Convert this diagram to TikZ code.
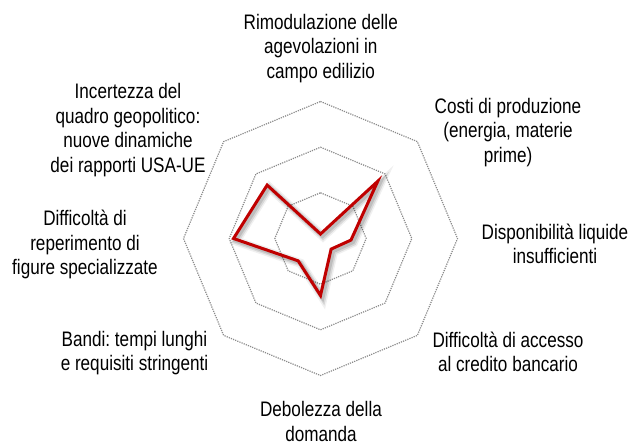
\documentclass[tikz,border=0pt]{standalone}
\usepackage{fontspec}
\setmainfont[FakeStretch=0.815]{Liberation Sans}
\usetikzlibrary{calc}
\frenchspacing
\definecolor{gridgray}{HTML}{8A8A8A}
\definecolor{seriesred}{HTML}{C00000}
\tikzset{
  gridline/.style={draw=gridgray, line width=1.2pt, dash pattern=on 1.2pt off 1.1pt},
  axislabel/.style={align=center, inner sep=0pt, anchor=base, font=\fontsize{21}{24.5}\selectfont\frenchspacing, text=black},
  series/.style={draw=seriesred, line width=3pt, line join=miter, miter limit=10,
    preaction={draw=black, opacity=.06, line width=9pt, transform canvas={shift={(2.5pt,-2.5pt)}}},
    preaction={draw=black, opacity=.10, line width=6pt, transform canvas={shift={(2.5pt,-2.5pt)}}},
    preaction={draw=black, opacity=.12, line width=4pt, transform canvas={shift={(2pt,-2pt)}}}}
}
\begin{document}
\begin{tikzpicture}[x=1pt,y=1pt]
\useasboundingbox (0,0) rectangle (643,445);
\coordinate (C) at (320.5,206.5);
% grid octagons
\foreach \r in {45.7,91.3,137}{
  \draw[gridline] ($(C)+(90:\r)$) -- ($(C)+(45:\r)$) -- ($(C)+(0:\r)$) -- ($(C)+(-45:\r)$)
    -- ($(C)+(-90:\r)$) -- ($(C)+(-135:\r)$) -- ($(C)+(180:\r)$) -- ($(C)+(135:\r)$) -- cycle;
}
% data points
\coordinate (p1) at ($(C)+(90:4.5)$);
\coordinate (p2) at ($(C)+(45:81)$);
\coordinate (p3) at ($(C)+(-3:30.5)$);
\coordinate (p4) at ($(C)+(-45:15)$);
\coordinate (p5) at ($(C)+(-90:57)$);
\coordinate (p6) at ($(C)+(-135:31.6)$);
\coordinate (p7) at ($(C)+(180:87)$);
\coordinate (p8) at ($(C)+(135:75.5)$);
\draw[series] (p1) -- (p2) -- (p3) -- (p4) -- (p5) -- (p6) -- (p7) -- (p8) -- cycle;
% labels (anchor = baseline of last line)
\node[axislabel] (lN)  at (320.8,366.5) {Rimodulazione delle\\agevolazioni in\\campo edilizio};
\node[axislabel] (lNE) at (508,282.5) {Costi di produzione\\(energia, materie\\prime)};
\node[axislabel] (lE)  at (555,181.5) {Disponibilità liquide\\insufficienti};
\node[axislabel] (lSE) at (508,73.5) {Difficoltà di accesso\\al credito bancario};
\node[axislabel] (lS)  at (321,4) {Debolezza della\\domanda};
\node[axislabel] (lSW) at (134.5,74.5) {Bandi: tempi lunghi\\e requisiti stringenti};
\node[axislabel] (lW)  at (85,170.5) {Difficoltà di\\reperimento di\\figure specializzate};
\node[axislabel] (lNW) at (128,272.5) {Incertezza del\\quadro geopolitico:\\nuove dinamiche\\dei rapporti USA-UE};
\end{tikzpicture}
\end{document}
